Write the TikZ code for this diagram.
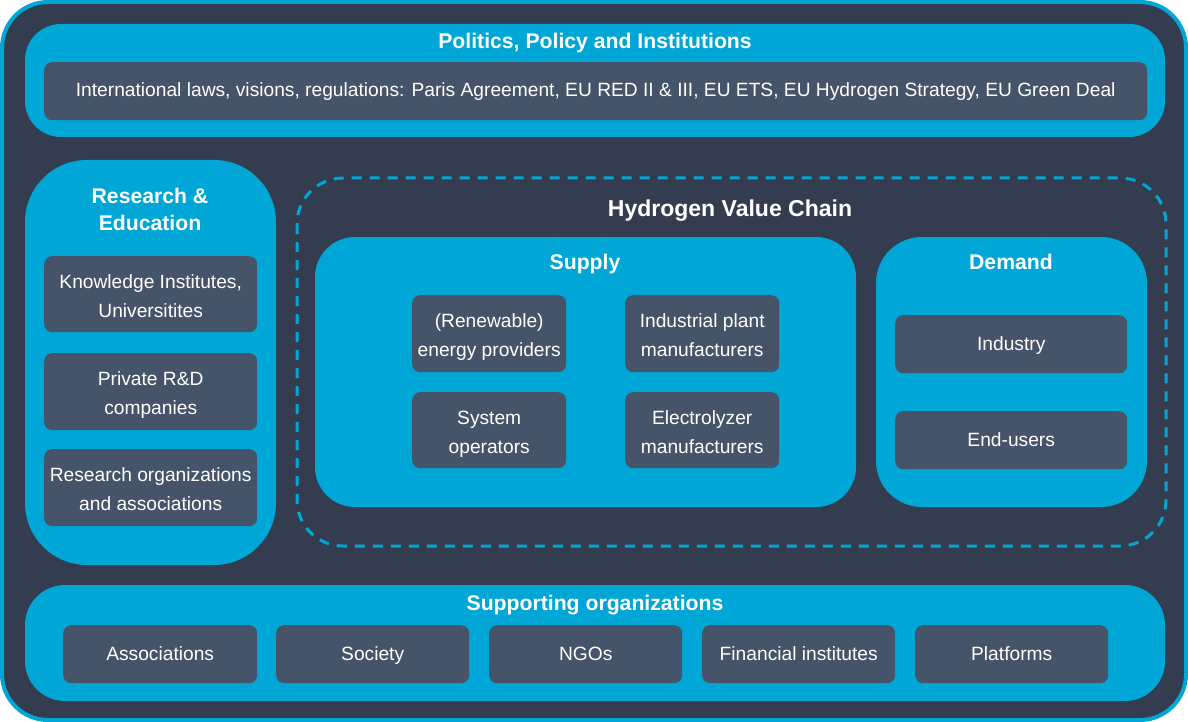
\documentclass[tikz,border=0pt]{standalone}
\usepackage{fontspec}
\setmainfont{Liberation Sans}
\definecolor{darkbg}{HTML}{343D4F}
\definecolor{cyanc}{HTML}{00A7D6}
\definecolor{boxc}{HTML}{465469}
\tikzset{
  ibox/.style={fill=boxc, draw=none, rounded corners=8pt, anchor=north west, inner sep=0pt,
    text=white, align=center, font=\fontsize{19.2}{29}\selectfont,
    execute at begin node=\strut, execute at end node=\strut},
  twoline/.style={execute at begin node={\rule{0pt}{55pt}}},
  grp/.style={fill=cyanc, draw=none},
  ttl/.style={text=white, font=\bfseries\fontsize{21.2}{27}\selectfont, align=center, inner sep=0pt,
    execute at begin node=\strut, execute at end node=\strut},
}
\newcommand{\bx}[7][]{\node[ibox, minimum width=#5pt, minimum height=#6pt, #1] (#2) at (#3,#4) {#7};}
\begin{document}
\begin{tikzpicture}[x=1pt,y=-1pt]
\useasboundingbox (0,0) rectangle (1188,722);
\fill[white] (0,0) rectangle (1188,722);
\draw[fill=darkbg, draw=cyanc, line width=4pt, rounded corners=46pt] (2,2) rectangle (1186,720);
% Politics
\fill[grp, rounded corners=36pt] (25,24) rectangle (1165,137);
\node[ttl] (poltitle) at (595,43) {Politics, Policy and Institutions};
\bx{intl}{44}{62}{1103}{58}{International laws, visions, regulations: Paris Agreement, EU RED II \& III, EU ETS, EU Hydrogen Strategy, EU Green Deal}
% Research
\fill[grp, rounded corners=62pt] (25,160) rectangle (276,565);
\node[ttl] (restitle) at (150,213) {Research \&\\Education};
\bx[twoline]{know}{44}{256}{213}{76}{Knowledge Institutes,\\Universitites}
\bx[twoline]{priv}{44}{353}{213}{77}{Private R\&D\\companies}
\bx[twoline]{rorg}{44}{449}{213}{77}{Research organizations\\and associations}
% Value chain
\draw[cyanc, line width=3pt, dash pattern=on 10pt off 8pt, rounded corners=46pt] (297,178) rectangle (1166,546);
\node[ttl, font=\bfseries\fontsize{23}{27}\selectfont] (hvctitle) at (730,211) {Hydrogen Value Chain};
\fill[grp, rounded corners=40pt] (315,237) rectangle (856,507);
\node[ttl] (suptitle) at (585,264) {Supply};
\bx[twoline]{renew}{412}{295}{154}{77}{(Renewable)\\energy providers}
\bx[twoline]{indp}{625}{295}{154}{77}{Industrial plant\\manufacturers}
\bx[twoline]{sysop}{412}{392}{154}{76}{System\\operators}
\bx[twoline]{elec}{625}{392}{154}{76}{Electrolyzer\\manufacturers}
\fill[grp, rounded corners=46pt] (876,237) rectangle (1147,507);
\node[ttl] (demtitle) at (1011,264) {Demand};
\bx{indu}{895}{315}{232}{58}{Industry}
\bx{endu}{895}{411}{232}{58}{End-users}
% Supporting
\fill[grp, rounded corners=40pt] (25,585) rectangle (1165,701);
\node[ttl] (suptl) at (595,605) {Supporting organizations};
\bx{assoc}{63}{625}{194}{58}{Associations}
\bx{soc}{276}{625}{193}{58}{Society}
\bx{ngo}{489}{625}{193}{58}{NGOs}
\bx{fin}{702}{625}{193}{58}{Financial institutes}
\bx{plat}{915}{625}{193}{58}{Platforms}
\end{tikzpicture}
\end{document}
